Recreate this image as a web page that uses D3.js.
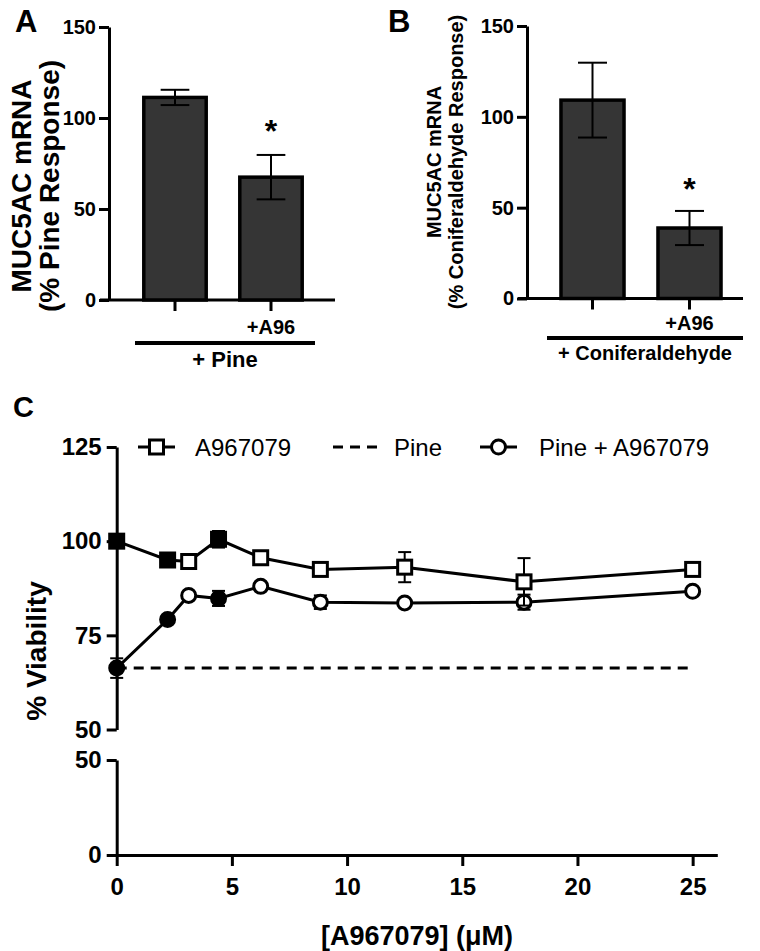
<!DOCTYPE html>
<html><head><meta charset="utf-8">
<script src="https://cdn.jsdelivr.net/npm/d3@7"></script>
<style>
body{margin:0;background:#fff}
svg{display:block}
text{font-family:"Liberation Sans",Arial,Helvetica,sans-serif}
</style>
</head><body>
<svg id="chart" width="760" height="951"></svg>
<script>
// ---------- DATA ----------
const barCategories = ["control", "A96"];
const barTickLabels = ["", "+A96"];
const barYTicks = [0, 50, 100, 150];

const pineValues = [111.3, 67.5];
const pineErrors = [4.2, 12.2];

const conifValues = [109.2, 38.8];
const conifErrors = [20.6, 9.4];

const concentrations = [0, 2.21, 3.125, 4.42, 6.25, 8.84, 12.5, 17.68, 25];
const a967079Viability = [100, 95.0, 94.6, 100.5, 95.6, 92.5, 93.1, 89.2, 92.5];
const a967079Error = [0.8, 1.6, 0.5, 2.2, 0.5, 0.5, 4.0, 6.3, 0.5];
const pineA967079Viability = [66.3, 79.2, 85.6, 84.8, 88.0, 83.8, 83.6, 83.8, 86.7];
const pineA967079Error = [2.6, 0.5, 0.5, 2.0, 0.5, 1.8, 0.3, 2.0, 0.5];
const filledPoints = [true, true, false, true, false, false, false, false, false];
const pineViability = 66.3;

const xTicksC = [0, 5, 10, 15, 20, 25];
const upperYTicks = [50, 75, 100, 125];
const lowerYTicks = [0, 50];

// ---------- DRAW ----------
const svg = d3.select("#chart");
const FONT = '"Liberation Sans",Arial,Helvetica,sans-serif';

function styleAxis(g, fontSize) {
  g.selectAll("path,line").attr("stroke", "#000").attr("stroke-width", 3);
  g.selectAll("text").attr("font-size", fontSize).attr("font-weight", "bold")
    .attr("fill", "#000").attr("font-family", FONT);
}

function barPanel(cfg) {
  const y = d3.scaleLinear().domain([0, 150]).range(cfg.yRange);
  const x = d3.scaleBand().domain(barCategories).range(cfg.bandRange);
  const g = svg.append("g");

  const ya = g.append("g").attr("transform", `translate(${cfg.axisX},0)`)
    .call(d3.axisLeft(y).tickValues(barYTicks).tickSize(10).tickSizeOuter(0).tickPadding(3));
  styleAxis(ya, 20);

  g.append("line").attr("x1", cfg.baseX[0]).attr("x2", cfg.baseX[1])
    .attr("y1", y(0)).attr("y2", y(0)).attr("stroke", "#000").attr("stroke-width", 3);

  const xa = g.append("g").attr("transform", `translate(0,${y(0)})`)
    .call(d3.axisBottom(x).tickSize(11).tickSizeOuter(0).tickFormat(() => ""));
  xa.select(".domain").remove();
  styleAxis(xa, 20);

  const bw = x.bandwidth() * 0.65;
  g.selectAll("rect.bar").data(cfg.values).enter().append("rect")
    .attr("x", (d, i) => x(barCategories[i]) + x.bandwidth() / 2 - bw / 2)
    .attr("width", bw)
    .attr("y", d => y(d))
    .attr("height", d => y(0) - y(d))
    .attr("fill", "#353535").attr("stroke", "#000").attr("stroke-width", 3.5);

  const capW = bw * 0.46;
  cfg.values.forEach((v, i) => {
    const cx = x(barCategories[i]) + x.bandwidth() / 2;
    const e = cfg.errors[i];
    g.append("line").attr("x1", cx).attr("x2", cx).attr("y1", y(v + e)).attr("y2", y(v - e))
      .attr("stroke", "#000").attr("stroke-width", 2);
    [v + e, v - e].forEach(t => g.append("line").attr("x1", cx - capW / 2).attr("x2", cx + capW / 2)
      .attr("y1", y(t)).attr("y2", y(t)).attr("stroke", "#000").attr("stroke-width", 2));
  });

  const c2 = x(barCategories[1]) + x.bandwidth() / 2;
  g.append("text").attr("x", c2).attr("y", cfg.starY).attr("text-anchor", "middle")
    .attr("font-size", 32).attr("font-weight", "bold").text("*");

  barTickLabels.forEach((t, i) => {
    g.append("text").attr("x", x(barCategories[i]) + x.bandwidth() / 2).attr("y", cfg.tickLabelY)
      .attr("text-anchor", "middle").attr("font-size", 20).attr("font-weight", "bold").text(t);
  });

  g.append("line").attr("x1", cfg.underline[0]).attr("x2", cfg.underline[1])
    .attr("y1", cfg.underlineY).attr("y2", cfg.underlineY).attr("stroke", "#000").attr("stroke-width", 4);
  g.append("text").attr("x", (cfg.underline[0] + cfg.underline[1]) / 2).attr("y", cfg.groupLabelY)
    .attr("text-anchor", "middle").attr("font-size", cfg.groupFont).attr("font-weight", "bold").text(cfg.groupLabel);

  cfg.yLabel.forEach((t, i) => {
    g.append("text").attr("transform", `translate(${cfg.yLabelX[i]},${cfg.yLabelY}) rotate(-90)`)
      .attr("text-anchor", "middle").attr("font-size", cfg.yLabelFont).attr("font-weight", "bold").text(t);
  });

  g.append("text").attr("x", cfg.letterX).attr("y", 32).attr("font-size", 31)
    .attr("font-weight", "bold").text(cfg.letter);
}

barPanel({
  letter: "A", letterX: 15,
  values: pineValues, errors: pineErrors,
  yRange: [300, 27], axisX: 109, bandRange: [127, 319], baseX: [100, 335],
  starY: 142, tickLabelY: 334, underline: [135, 315], underlineY: 343,
  groupLabel: "+ Pine", groupLabelY: 367, groupFont: 22,
  yLabel: ["MUC5AC mRNA", "(% Pine Response)"], yLabelX: [31, 59], yLabelY: 186, yLabelFont: 28
});

barPanel({
  letter: "B", letterX: 388,
  values: conifValues, errors: conifErrors,
  yRange: [298.5, 26], axisX: 527, bandRange: [544, 738], baseX: [518, 743],
  starY: 200, tickLabelY: 330, underline: [547, 743], underlineY: 338,
  groupLabel: "+ Coniferaldehyde", groupLabelY: 360, groupFont: 20,
  yLabel: ["MUC5AC mRNA", "(% Coniferaldehyde Response)"], yLabelX: [441, 463], yLabelY: 162, yLabelFont: 20
});

// ---------- PANEL C ----------
const gc = svg.append("g");
const xC = d3.scaleLinear().domain([0, 26.07]).range([116.7, 717.3]);
const yUp = d3.scaleLinear().domain([50, 125]).range([729.5, 447]);
const yLo = d3.scaleLinear().domain([0, 50]).range([855, 760]);

gc.append("text").attr("x", 13).attr("y", 417).attr("font-size", 29).attr("font-weight", "bold").text("C");

const yaU = gc.append("g").attr("transform", `translate(${xC(0)},0)`)
  .call(d3.axisLeft(yUp).tickValues(upperYTicks).tickSize(10).tickSizeOuter(0).tickPadding(5));
styleAxis(yaU, 24);
const yaL = gc.append("g").attr("transform", `translate(${xC(0)},0)`)
  .call(d3.axisLeft(yLo).tickValues(lowerYTicks).tickSize(10).tickSizeOuter(0).tickPadding(5));
styleAxis(yaL, 24);
const xa = gc.append("g").attr("transform", `translate(0,${yLo(0)})`)
  .call(d3.axisBottom(xC).tickValues(xTicksC).tickSize(11).tickSizeOuter(0).tickPadding(12));
styleAxis(xa, 24);

gc.append("text").attr("transform", `translate(46,651) rotate(-90)`).attr("text-anchor", "middle")
  .attr("font-size", 28).attr("font-weight", "bold").text("% Viability");
gc.append("text").attr("x", (xC(0) + xC(26.07)) / 2).attr("y", 945).attr("text-anchor", "middle")
  .attr("font-size", 27).attr("font-weight", "bold").text("[A967079] (\u03BCM)");

gc.append("line").attr("x1", xC(0)).attr("x2", xC(25)).attr("y1", yUp(pineViability)).attr("y2", yUp(pineViability))
  .attr("stroke", "#000").attr("stroke-width", 3).attr("stroke-dasharray", "10,7");

function series(values, errors, shape) {
  const pts = concentrations.map((c, i) => ({ c, v: values[i], e: errors[i], f: filledPoints[i] }));
  gc.append("path").datum(pts)
    .attr("d", d3.line().x(d => xC(d.c)).y(d => yUp(d.v)))
    .attr("fill", "none").attr("stroke", "#000").attr("stroke-width", 3);
  pts.forEach(d => {
    const cx = xC(d.c);
    gc.append("line").attr("x1", cx).attr("x2", cx).attr("y1", yUp(d.v + d.e)).attr("y2", yUp(d.v - d.e))
      .attr("stroke", "#000").attr("stroke-width", 2);
    [d.v + d.e, d.v - d.e].forEach(t => gc.append("line").attr("x1", cx - 6.5).attr("x2", cx + 6.5)
      .attr("y1", yUp(t)).attr("y2", yUp(t)).attr("stroke", "#000").attr("stroke-width", 2));
  });
  pts.forEach(d => {
    const cx = xC(d.c), cy = yUp(d.v);
    if (shape === "square") {
      gc.append("rect").attr("x", cx - 7).attr("y", cy - 7).attr("width", 14).attr("height", 14)
        .attr("fill", d.f ? "#000" : "#fff").attr("stroke", "#000").attr("stroke-width", 3);
    } else {
      gc.append("circle").attr("cx", cx).attr("cy", cy).attr("r", 7)
        .attr("fill", d.f ? "#000" : "#fff").attr("stroke", "#000").attr("stroke-width", 3);
    }
  });
}
series(pineA967079Viability, pineA967079Error, "circle");
series(a967079Viability, a967079Error, "square");

const legY = 447;
const legendItems = [
  { label: "A967079", kind: "square", x0: 138, x1: 175, tx: 195 },
  { label: "Pine", kind: "dash", x0: 333, x1: 383, tx: 394 },
  { label: "Pine + A967079", kind: "circle", x0: 480, x1: 517, tx: 539 }
];
legendItems.forEach(it => {
  const l = gc.append("line").attr("x1", it.x0).attr("x2", it.x1).attr("y1", legY).attr("y2", legY)
    .attr("stroke", "#000").attr("stroke-width", 3);
  if (it.kind === "dash") l.attr("stroke-dasharray", "10,7");
  const mx = (it.x0 + it.x1) / 2;
  if (it.kind === "square") gc.append("rect").attr("x", mx - 7).attr("y", legY - 7).attr("width", 14).attr("height", 14)
    .attr("fill", "#fff").attr("stroke", "#000").attr("stroke-width", 3);
  if (it.kind === "circle") gc.append("circle").attr("cx", mx).attr("cy", legY).attr("r", 7)
    .attr("fill", "#fff").attr("stroke", "#000").attr("stroke-width", 3);
  gc.append("text").attr("x", it.tx).attr("y", legY + 8.5).attr("font-size", 24).attr("fill", "#000").text(it.label);
});
</script>
</body></html>
